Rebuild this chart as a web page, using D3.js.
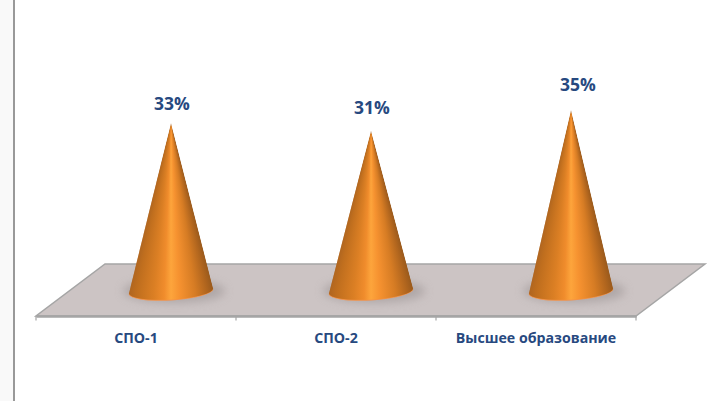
<!DOCTYPE html>
<html>
<head>
<meta charset="utf-8">
<script src="https://cdn.jsdelivr.net/npm/d3@7"></script>
<style>
body { margin: 0; background: #fff; overflow: hidden; }
text { font-family: "Open Sans", sans-serif; font-weight: 700; fill: #27497f; }
</style>
</head>
<body>
<div id="chart"></div>
<script>
// values, the first one is a bit under 33 going by its height
var categories = ["СПО-1", "СПО-2", "Высшее образование"];
var values = [32.5, 31, 35];
var shadeStops = [0, 0.1, 0.3, 0.42, 0.5, 0.6, 0.78, 0.92, 1];
var shadeColors = ["#ad6420", "#bf6e1e", "#db7f24", "#f08c2c", "#fda53c", "#f69230", "#d67c24", "#b0651e", "#98591c"];

var width = 721, height = 401;
var floorFront = 316, floorBack = 264, floorShift = 69;
var coneShift = 35; // cones stand halfway back on the floor
var baseY = 291, baseRx = 42, baseRy = 8.5, baseTilt = 2.5;

var svg = d3.select("#chart").append("svg").attr("width", width).attr("height", height);

// strip on the left of the frame
svg.append("rect").attr("width", 13).attr("height", height).attr("fill", "#f9f9f9");
svg.append("line").attr("x1", 14).attr("x2", 14).attr("y1", 0).attr("y2", height)
    .attr("stroke", "#999").attr("stroke-width", 2);

var x = d3.scaleBand().domain(categories).range([36, 636]);
var y = d3.scaleLinear().domain([0, 35]).range([292, 110]);

var defs = svg.append("defs");
defs.append("filter").attr("id", "blur")
    .attr("x", "-30%").attr("y", "-100%").attr("width", "160%").attr("height", "300%")
    .append("feGaussianBlur").attr("stdDeviation", 5);

var grad = defs.append("linearGradient").attr("id", "coneShade");
grad.selectAll("stop")
    .data(shadeStops)
    .enter().append("stop")
    .attr("offset", function(d) { return d; })
    .attr("stop-color", function(d, i) { return shadeColors[i]; });

// floor
var left = x.range()[0], right = x.range()[1];
svg.append("path")
    .attr("d", "M" + left + "," + floorFront + "L" + right + "," + floorFront +
        "L" + (right + floorShift) + "," + floorBack + "L" + (left + floorShift) + "," + floorBack + "Z")
    .attr("fill", "#ccc4c4").attr("stroke", "#a5a5a5").attr("stroke-width", 1.5);

// axis
var axis = svg.append("g").attr("transform", "translate(0," + floorFront + ")")
    .call(d3.axisBottom(x).tickSize(0).tickPadding(17));
axis.select(".domain").attr("stroke", "#a5a5a5").attr("stroke-width", 2.5);
axis.selectAll("text").attr("font-size", 14.2).style("font-family", null);

svg.selectAll(".edge")
    .data(categories.map(function(c) { return x(c); }).concat([right]))
    .enter().append("line")
    .attr("x1", function(d) { return d; }).attr("x2", function(d) { return d; })
    .attr("y1", floorFront).attr("y2", floorFront + 4.5)
    .attr("stroke", "#a5a5a5").attr("stroke-width", 1.2);

// cones
var cones = svg.selectAll(".cone")
    .data(categories)
    .enter().append("g")
    .attr("class", "cone");

cones.append("ellipse")
    .attr("cx", function(d) { return x(d) + x.bandwidth() / 2 + coneShift + 3; })
    .attr("cy", baseY)
    .attr("rx", baseRx + 9).attr("ry", baseRy + 3)
    .attr("fill", "#9a9292").attr("opacity", 0.6)
    .attr("filter", "url(#blur)");

var tiltDeg = -Math.atan2(baseTilt, baseRx) * 180 / Math.PI;

cones.each(function(d, i) {
    var cx = x(d) + x.bandwidth() / 2 + coneShift;
    var apex = y(values[i]);
    var g = d3.select(this);
    var outline = "M" + cx + "," + apex + "L" + (cx + baseRx) + "," + (baseY - baseTilt) +
        "A" + baseRx + "," + baseRy + " " + tiltDeg + " 0 1 " + (cx - baseRx) + "," + (baseY + baseTilt) + "Z";

    // rim just under the base
    g.append("ellipse")
        .attr("cx", cx).attr("cy", baseY + 0.5)
        .attr("rx", baseRx + 0.4).attr("ry", baseRy + 0.5)
        .attr("transform", "rotate(" + tiltDeg + " " + cx + " " + baseY + ")")
        .attr("fill", "#f2924a");

    defs.append("clipPath").attr("id", "clip" + i).append("path").attr("d", outline);

    // one row per pixel, the gradient stretches to the row so the highlight narrows to the tip
    var rows = d3.range(Math.floor(apex), baseY + baseRy + 2);
    g.append("g").attr("clip-path", "url(#clip" + i + ")")
        .selectAll("rect")
        .data(rows)
        .enter().append("rect")
        .attr("x", function(r) { return cx - halfWidth(r); })
        .attr("y", function(r) { return r; })
        .attr("width", function(r) { return 2 * halfWidth(r); })
        .attr("height", 1.5)
        .attr("fill", "url(#coneShade)");

    function halfWidth(r) {
        return Math.max(0.5, (baseRx + 1) * Math.min(1, (r + 0.5 - apex) / (baseY - apex)));
    }

    g.append("text")
        .attr("x", cx + (i == 2 ? 7 : 1))
        .attr("y", apex - (i == 0 ? 13 : i == 1 ? 17 : 19))
        .attr("text-anchor", "middle")
        .attr("font-size", 17.5)
        .text(Math.round(values[i]) + "%");
});
</script>
</body>
</html>
